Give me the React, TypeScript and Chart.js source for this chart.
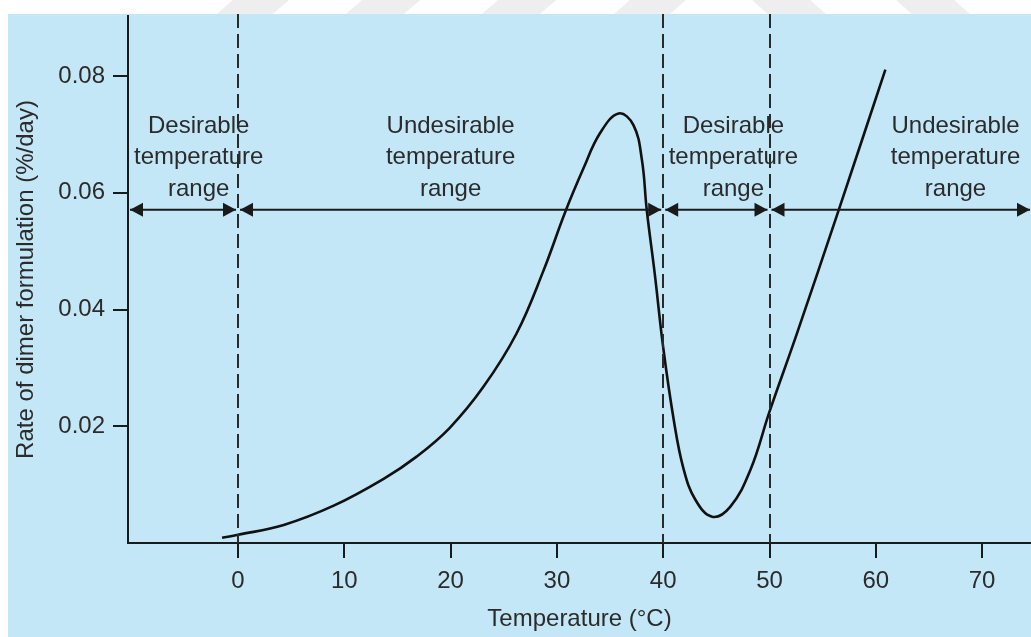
import React, { useEffect, useRef } from 'react';
import { Chart, registerables } from 'chart.js';

Chart.register(...registerables);

// ---- data ----
const temperature = [-1.5, 0, 4.3, 9, 13.7, 16.8, 19.9, 23.1, 26.2, 28.7, 30.8, 32.5, 34.05, 35.8, 37.2, 38.0, 38.45, 39.2, 40.0, 41.0, 41.9, 43.0, 44.6, 46.3, 48.2, 50, 52.6, 56.5, 60.9];
const dimerRate = [0.0009, 0.0014, 0.0031, 0.0064, 0.011, 0.0148, 0.0197, 0.0268, 0.0359, 0.0465, 0.0568, 0.0642, 0.0702, 0.0736, 0.0716, 0.0656, 0.0571, 0.0462, 0.0335, 0.021, 0.0128, 0.0075, 0.0045, 0.0062, 0.0125, 0.0225, 0.036, 0.057, 0.0811];

const xTicks = [0, 10, 20, 30, 40, 50, 60, 70];
const yTicks = [0.02, 0.04, 0.06, 0.08];
const xMin = -10.35;
const xMax = 74.6;
const yMin = 0;
const yMax = 0.0903;

const dashedAt = [0, 40, 50];
const rangeBounds = [xMin, 0, 40, 50, xMax];
const rangeNames = ['Desirable', 'Undesirable', 'Desirable', 'Undesirable'];
const rangeLabelX = [-3.7, 20, 46.6, 67.5];
const arrowLevel = 0.0571;

const xTitle = 'Temperature (°C)';
const yTitle = 'Rate of dimer formulation (%/day)';

const FONT = '"Liberation Sans", Arial, Helvetica, sans-serif';
const TEXT = '#2b2b2b';
const INK = '#1a1a1a';
const BLUE = '#c3e7f7';

const backgroundPlugin = {
  id: 'bgPanel',
  beforeDraw(chart: any) {
    const { ctx, width, height } = chart;
    ctx.save();
    ctx.fillStyle = '#ffffff';
    ctx.fillRect(0, 0, width, height);
    // faint watermark fragments in the white strip
    ctx.fillStyle = '#eeeeee';
    const stripes = [
      [233, 56, -1], [362, 58, -1], [498, 58, -1], [630, 56, -1], [752, 58, 1], [896, 58, 1],
    ];
    stripes.forEach(([x, w, d]) => {
      ctx.beginPath();
      ctx.moveTo(x, 0);
      ctx.lineTo(x + w, 0);
      ctx.lineTo(x + w + d * 16, 14);
      ctx.lineTo(x + d * 16, 14);
      ctx.closePath();
      ctx.fill();
    });
    ctx.fillStyle = BLUE;
    ctx.fillRect(8, 14, width - 8, height - 14);
    ctx.restore();
  },
};

const annotationPlugin = {
  id: 'ranges',
  afterDatasetsDraw(chart: any) {
    const { ctx, chartArea } = chart;
    const xs = chart.scales.x;
    const ys = chart.scales.y;
    ctx.save();
    // dashed boundaries
    ctx.strokeStyle = '#2a2a2a';
    ctx.lineWidth = 2;
    ctx.setLineDash([14, 6]);
    dashedAt.forEach((t) => {
      const px = Math.round(xs.getPixelForValue(t));
      ctx.beginPath();
      ctx.moveTo(px, chartArea.top - 2);
      ctx.lineTo(px, chartArea.bottom);
      ctx.stroke();
    });
    ctx.setLineDash([]);

    // double-headed arrows
    const ay = ys.getPixelForValue(arrowLevel);
    ctx.strokeStyle = INK;
    ctx.fillStyle = INK;
    ctx.lineWidth = 2;
    const head = (tip: number, dir: number) => {
      ctx.beginPath();
      ctx.moveTo(tip, ay);
      ctx.lineTo(tip - dir * 13, ay - 7);
      ctx.lineTo(tip - dir * 13, ay + 7);
      ctx.closePath();
      ctx.fill();
    };
    for (let i = 0; i < rangeBounds.length - 1; i++) {
      let a = xs.getPixelForValue(rangeBounds[i]) + 2;
      let b = xs.getPixelForValue(rangeBounds[i + 1]) - 2;
      if (i === 0) a = chartArea.left + 2;
      if (i === rangeBounds.length - 2) b = chartArea.right - 1;
      ctx.beginPath();
      ctx.moveTo(a, ay);
      ctx.lineTo(b, ay);
      ctx.stroke();
      head(a, -1);
      head(b, 1);
    }

    // range labels
    ctx.fillStyle = TEXT;
    ctx.font = `24px ${FONT}`;
    ctx.textAlign = 'center';
    ctx.textBaseline = 'alphabetic';
    rangeNames.forEach((name, i) => {
      const cx = xs.getPixelForValue(rangeLabelX[i]);
      const lines = [name, 'temperature', 'range'];
      lines.forEach((ln, j) => {
        ctx.fillText(ln, cx, ay - 77 + j * 31.5);
      });
    });
    ctx.restore();
  },
};

export default function App() {
  const ref = useRef<HTMLCanvasElement | null>(null);

  useEffect(() => {
    if (!ref.current) return;
    const points = temperature.map((t, i) => ({ x: t, y: dimerRate[i] }));
    const chart = new Chart(ref.current, {
      type: 'line',
      data: {
        datasets: [
          {
            label: 'Rate',
            data: points,
            borderColor: '#111111',
            borderWidth: 2.6,
            pointRadius: 0,
            fill: false,
            tension: 0.4,
          } as any,
        ],
      },
      options: {
        responsive: false,
        animation: false,
        devicePixelRatio: 1,
        layout: { padding: { top: 16, left: 0, right: 0, bottom: 0 } },
        plugins: {
          legend: { display: false },
          tooltip: { enabled: false },
        },
        scales: {
          x: {
            type: 'linear',
            min: xMin,
            max: xMax,
            afterBuildTicks: (s: any) => {
              s.ticks = xTicks.map((v) => ({ value: v }));
            },
            afterFit: (s: any) => {
              s.height = 94;
              s.paddingLeft = 0;
              s.paddingRight = 0;
            },
            grid: {
              drawOnChartArea: false,
              drawTicks: true,
              tickLength: 15,
              color: INK,
              lineWidth: 2,
            },
            border: { display: true, color: INK, width: 2 },
            ticks: {
              color: TEXT,
              font: { family: FONT, size: 24 },
              padding: 9,
              maxRotation: 0,
              callback: (v: any) => String(v),
            },
            title: {
              display: true,
              text: xTitle,
              color: TEXT,
              font: { family: FONT, size: 24 },
              padding: { top: 0, bottom: 3 },
            },
          },
          y: {
            type: 'linear',
            min: yMin,
            max: yMax,
            afterBuildTicks: (s: any) => {
              s.ticks = yTicks.map((v) => ({ value: v }));
            },
            afterFit: (s: any) => {
              s.width = 128;
              s.paddingTop = 0;
              s.paddingBottom = 0;
            },
            grid: {
              drawOnChartArea: false,
              drawTicks: true,
              tickLength: 15,
              color: INK,
              lineWidth: 2,
            },
            border: { display: true, color: INK, width: 2 },
            ticks: {
              color: TEXT,
              font: { family: FONT, size: 24 },
              padding: 8,
              callback: (v: any) => Number(v).toFixed(2),
            },
            title: {
              display: true,
              text: yTitle,
              color: TEXT,
              font: { family: FONT, size: 24 },
              padding: { top: 12, bottom: 0 },
            },
          },
        },
      },
      plugins: [backgroundPlugin, annotationPlugin],
    });
    return () => chart.destroy();
  }, []);

  return (
    <div style={{ position: 'absolute', left: 0, top: 0, width: 1031, height: 637 }}>
      <canvas ref={ref} width={1031} height={637} style={{ display: 'block' }} />
    </div>
  );
}
